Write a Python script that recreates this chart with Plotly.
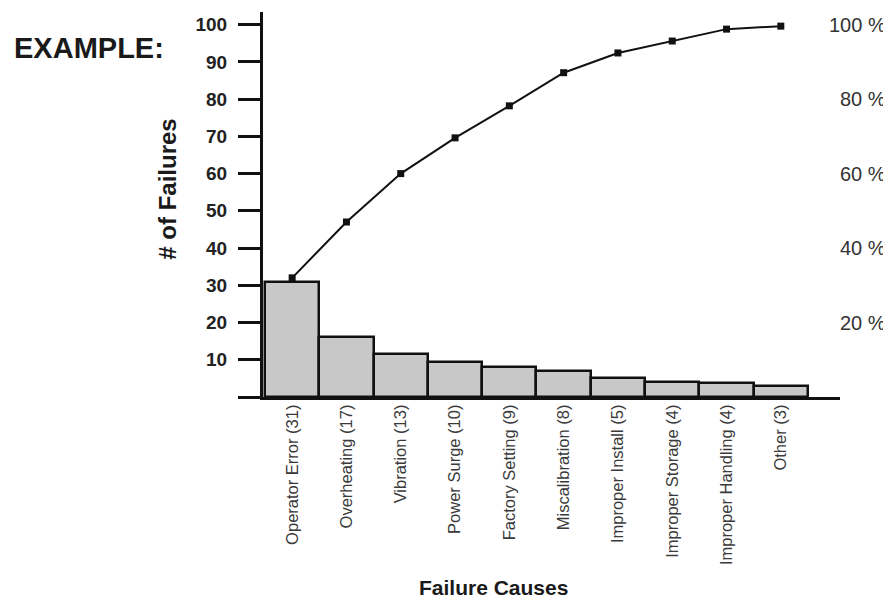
import plotly.graph_objects as go

categories = ["Operator Error (31)", "Overheating (17)", "Vibration (13)", "Power Surge (10)",
              "Factory Setting (9)", "Miscalibration (8)", "Improper Install (5)",
              "Improper Storage (4)", "Improper Handling (4)", "Other (3)"]
failures = [31, 16, 11.5, 9.5, 8, 7, 5, 4, 3.7, 3]
cumulative = [32, 47, 60, 69.6, 78.2, 87.1, 92.4, 95.6, 98.8, 99.6]

left_ticks = [0, 10, 20, 30, 40, 50, 60, 70, 80, 90, 100]
left_ticktext = ["", "10", "20", "30", "40", "50", "60", "70", "80", "90", "100"]
pct_ticks = [20, 40, 60, 80, 100]
pct_ticktext = ["20 %", "40 %", "60 %", "80 %", "100 %"]

FONT = "Liberation Sans, Arial, sans-serif"
idx = list(range(len(categories)))

fig = go.Figure()
fig.add_trace(go.Bar(
    x=idx, y=failures,
    marker=dict(color="#c8c8c8", line=dict(color="#111111", width=2.5)),
    showlegend=False, hoverinfo="skip",
))
fig.add_trace(go.Scatter(
    x=idx, y=cumulative, mode="lines+markers",
    line=dict(color="#111111", width=2),
    marker=dict(symbol="square", size=7, color="#111111"),
    showlegend=False,
))

# right-hand percentage labels, right-aligned like the reference
pct_annotations = [
    dict(text=t, xref="paper", yref="y", x=(888 - 263) / 628, y=v,
         xanchor="right", yanchor="middle", showarrow=False,
         font=dict(family=FONT, size=20, color="#333333"))
    for v, t in zip(pct_ticks, pct_ticktext)
]

YR = [0, 103.4]
fig.update_layout(
    width=883, height=592,
    margin=dict(l=255, r=0, t=4, b=203, autoexpand=False),
    paper_bgcolor="white", plot_bgcolor="white",
    bargap=0,
    xaxis=dict(
        domain=[0, 0.9188],
        range=[-0.537, 10.09],
        tickmode="array", tickvals=idx, ticktext=categories,
        tickangle=-90, ticks="", showgrid=False, zeroline=False,
        showline=True, linecolor="#111111", linewidth=3,
        tickfont=dict(family=FONT, size=16.5, color="#3a3a3a"),
        ticklabelstandoff=-2,
    ),
    yaxis=dict(
        range=YR, tickmode="array", tickvals=left_ticks, ticktext=left_ticktext,
        ticks="outside", ticklen=22, tickwidth=3, tickcolor="#111111",
        showgrid=False, zeroline=False,
        showline=True, linecolor="#111111", linewidth=3,
        tickfont=dict(family=FONT, size=19, color="#222222", weight="bold"),
        ticklabelstandoff=7,
    ),
    annotations=[
        dict(text="EXAMPLE:", xref="paper", yref="paper", x=-0.3995, y=0.9066,
             xanchor="left", yanchor="middle", showarrow=False,
             font=dict(family=FONT, size=29, color="#1a1a1a", weight="bold")),
        dict(text="# of Failures", xref="paper", yref="paper", x=-0.1513, y=0.541,
             xanchor="center", yanchor="middle", textangle=-90, showarrow=False,
             font=dict(family=FONT, size=24, color="#1a1a1a", weight="bold")),
        dict(text="Failure Causes", xref="paper", yref="paper", x=0.3678, y=-0.494,
             xanchor="center", yanchor="middle", showarrow=False,
             font=dict(family=FONT, size=21, color="#1a1a1a", weight="bold")),
    ] + pct_annotations,
)

fig.write_html("out.html")
